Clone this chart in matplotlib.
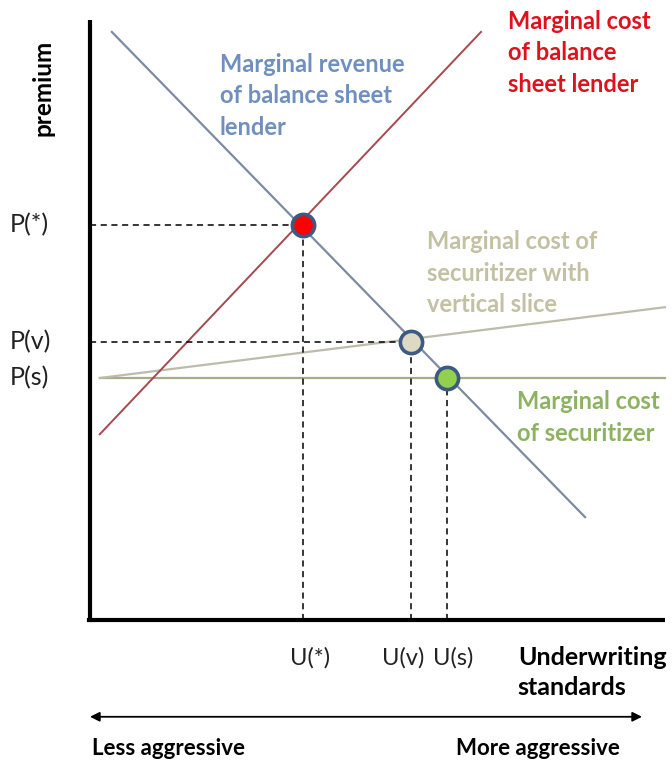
import matplotlib
matplotlib.use("Agg")
import matplotlib.pyplot as plt

plt.rcParams['font.family'] = ['Lato', 'DejaVu Sans']

# ---- data (abstract units: underwriting 0..100, premium 0..100) ----
mr_u = [3.8, 86.1]          # marginal revenue of balance sheet lender
mr_p = [97.2, 17.0]
mcb_u = [1.7, 68.0]         # marginal cost of balance sheet lender
mcb_p = [30.7, 97.2]
mcv_u = [1.7, 100.0]        # marginal cost of securitizer with vertical slice
mcv_p = [40.0, 51.7]
mcs_u = [1.7, 100.0]        # marginal cost of securitizer
mcs_p = [40.0, 40.0]

eq_u = [37.0, 55.8, 62.1]   # equilibria: *, v, s
eq_p = [65.3, 46.0, 40.0]
eq_colors = ['#ff0000', '#ddd9c3', '#92d050']
p_labels = ['P(*)', 'P(v)', 'P(s)']
u_labels = ['U(*)', 'U(v)', 'U(s)']

# ---- figure ----
fig = plt.figure(figsize=(6.72, 7.63), dpi=100)
ax = fig.add_axes([0, 0, 1, 1])
ax.set_xlim(-15.65, 101.22)
ax.set_ylim(-23.64, 102.48)
ax.axis('off')

# axes
ax.plot([0, 0], [0, 99.2], color='black', lw=3, solid_capstyle='butt')
ax.plot([0, 100], [0, 0], color='black', lw=3, solid_capstyle='butt')
ax.plot([-0.25, 0], [0, 0], color='black', lw=3)

# curves
ax.plot(mcs_u, mcs_p, color='#a7ab8c', lw=1.6)
ax.plot(mcv_u, mcv_p, color='#bdbba9', lw=1.6)
ax.plot(mcb_u, mcb_p, color='#a5494d', lw=1.4)
ax.plot(mr_u, mr_p, color='#7d8aa3', lw=1.6)

# dashed guides
dash = dict(color='black', lw=1.1, ls=(0, (4, 3)))
for i, (u, p) in enumerate(zip(eq_u, eq_p)):
    if i < 2:
        ax.plot([0, u], [p, p], **dash)
    ax.plot([u, u], [0, p], **dash)

# equilibrium points
for u, p, c in zip(eq_u, eq_p, eq_colors):
    ax.plot([u], [p], 'o', ms=16, mfc=c, mec='#3c5a82', mew=2.6, zorder=5)

# tick-like labels
for p, lab in zip(eq_p, p_labels):
    ax.text(-13.9, p, lab, ha='left', va='center', fontsize=18, color='#222222')
u_shift = [1.2, -1.3, 1.0]
for u, lab, du in zip(eq_u, u_labels, u_shift):
    ax.text(u + du, -6.3, lab, ha='center', va='center',
            fontsize=17, color='#222222')

ax.text(-8.2, 87.9, 'premium', rotation=90, ha='center', va='center',
        fontsize=17.5, fontweight='bold', color='black')
ax.text(74.4, -4.3, 'Underwriting\nstandards', ha='left', va='top',
        fontsize=18, fontweight='bold', color='black', linespacing=1.35)

# direction arrow
ax.annotate('', xy=(96.0, -16.0), xytext=(0, -16.0),
            arrowprops=dict(arrowstyle='<|-|>', color='black', lw=1.3,
                            mutation_scale=14, shrinkA=0, shrinkB=0))
ax.text(13.6, -21.2, 'Less aggressive', ha='center', va='center',
        fontsize=16, fontweight='bold', color='black')
ax.text(77.9, -21.2, 'More aggressive', ha='center', va='center',
        fontsize=16, fontweight='bold', color='black')

# curve labels
lbl = dict(ha='left', va='top', fontsize=17, fontweight='bold', linespacing=1.45)
ax.text(22.6, 93.8, 'Marginal revenue\nof balance sheet\nlender', color='#6f8fbf', **lbl)
ax.text(72.7, 100.9, 'Marginal cost\nof balance\nsheet lender', color='#e0101c', **lbl)
ax.text(58.6, 64.4, 'Marginal cost of\nsecuritizer with\nvertical slice', color='#c4c0a2', **lbl)
ax.text(74.3, 38.0, 'Marginal cost\nof securitizer', color='#8db361', **lbl)

fig.savefig('out.png', dpi=100)
